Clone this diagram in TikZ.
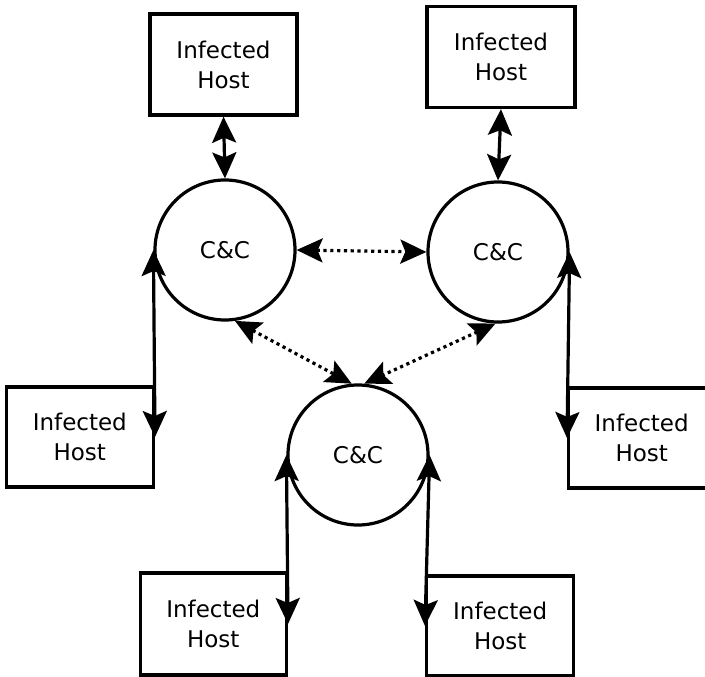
\documentclass[tikz,border=0pt]{standalone}
\usepackage{fontspec}
\setmainfont{DejaVu Sans}
\usetikzlibrary{arrows.meta}
\begin{document}
\begin{tikzpicture}[x=1pt,y=-1pt,
  hostbox/.style={draw,line width=3.4pt,rectangle,inner sep=0pt,align=center,
    font=\fontsize{23}{30}\selectfont},
  cnc/.style={draw,line width=3.2pt,circle,minimum size=140pt,inner sep=0pt,
    font=\fontsize{23}{24}\selectfont},
  link/.style={line width=3.2pt,
    arrows={Stealth[length=26pt,width=24pt,inset=5pt]-Stealth[length=26pt,width=24pt,inset=5pt]}},
  peer/.style={link,dash pattern=on 3.2pt off 3.6pt}]
\useasboundingbox (0,0) rectangle (705,677);
% command-and-control servers
\node[cnc] (c1) at (225,250) {C\&C};
\node[cnc] (c2) at (498,252) {C\&C};
\node[cnc] (c3) at (358,455) {C\&C};
% infected hosts (the right-hand one runs past the page edge)
\node[hostbox,minimum width=147pt,minimum height=101pt] (h1) at (223.5,64.5) {Infected\\Host};
\node[hostbox,minimum width=148pt,minimum height=101pt] (h2) at (501,57) {Infected\\Host};
\node[hostbox,minimum width=147pt,minimum height=100pt,anchor=east] (h3) at (155,437) {Infected\\Host};
\node[hostbox,minimum width=150pt,minimum height=100pt,anchor=west,text width=140pt] (h4) at (567,438) {\hspace*{-4pt}Infected\\\hspace*{-4pt}Host};
\node[hostbox,minimum width=146pt,minimum height=102pt,anchor=east] (h5) at (288,624) {Infected\\Host};
\node[hostbox,minimum width=147pt,minimum height=100pt,anchor=west] (h6) at (425,626) {Infected\\Host};
% host <-> server links
\draw[link] (h1.south) -- (c1.north);
\draw[link] (h2.south) -- (c2.north);
\draw[link] (c1.west) -- (h3.east);
\draw[link] (c2.east) -- (h4.west);
\draw[link] (c3.west) -- (h5.east);
\draw[link] (c3.east) -- (h6.west);
% server <-> server links
\draw[peer] (c1.east) -- (c2.west);
\draw[peer] (c1.-82) -- (c3.95);
\draw[peer] (c2.-92) -- (c3.85);
\end{tikzpicture}
\end{document}
